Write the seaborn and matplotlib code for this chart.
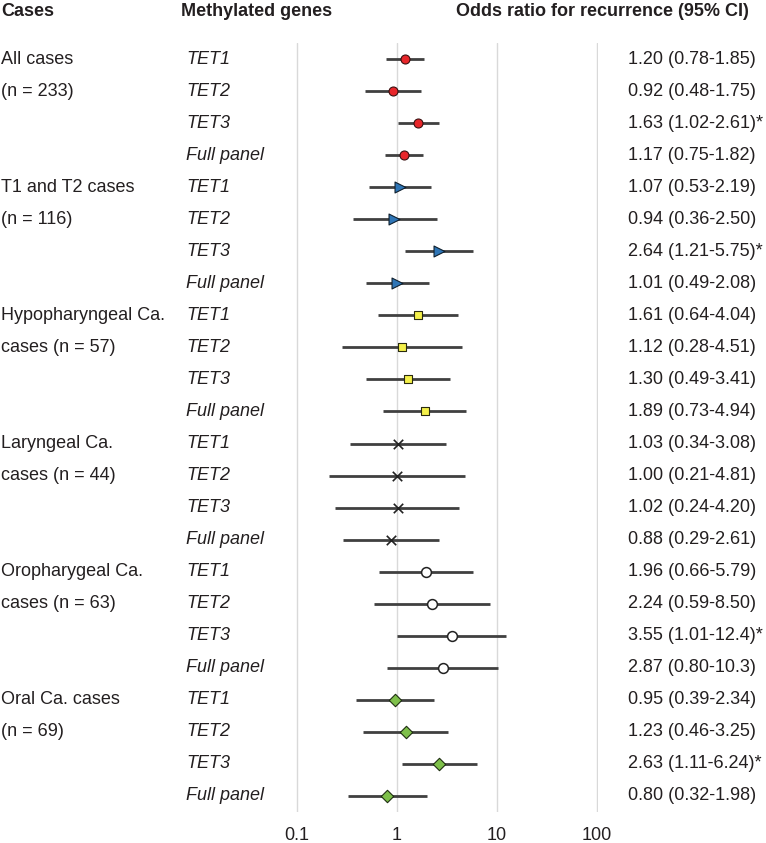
import matplotlib
matplotlib.use("Agg")
import matplotlib.pyplot as plt
import matplotlib.transforms as mtransforms
import seaborn as sns
import pandas as pd
import numpy as np

# ---------------- data ----------------
groups = ["All cases", "T1 and T2 cases", "Hypopharyngeal Ca.",
          "Laryngeal Ca.", "Oropharygeal Ca.", "Oral Ca."]
case_line1 = ["All cases", "T1 and T2 cases", "Hypopharyngeal Ca.",
              "Laryngeal Ca.", "Oropharygeal Ca.", "Oral Ca. cases"]
case_line2 = ["(n = 233)", "(n = 116)", "cases (n = 57)",
              "cases (n = 44)", "cases (n = 63)", "(n = 69)"]
genes = ["TET1", "TET2", "TET3", "Full panel"]

odds_ratio = [1.20, 0.92, 1.63, 1.17,
              1.07, 0.94, 2.64, 1.01,
              1.61, 1.12, 1.30, 1.89,
              1.03, 1.00, 1.02, 0.88,
              1.96, 2.24, 3.55, 2.87,
              0.95, 1.23, 2.63, 0.80]
ci_low = [0.78, 0.48, 1.02, 0.75,
          0.53, 0.36, 1.21, 0.49,
          0.64, 0.28, 0.49, 0.73,
          0.34, 0.21, 0.24, 0.29,
          0.66, 0.59, 1.01, 0.80,
          0.39, 0.46, 1.11, 0.32]
ci_high = [1.85, 1.75, 2.61, 1.82,
           2.19, 2.50, 5.75, 2.08,
           4.04, 4.51, 3.41, 4.94,
           3.08, 4.81, 4.20, 2.61,
           5.79, 8.50, 12.4, 10.3,
           2.34, 3.25, 6.24, 1.98]
value_labels = ["1.20 (0.78-1.85)", "0.92 (0.48-1.75)", "1.63 (1.02-2.61)*", "1.17 (0.75-1.82)",
                "1.07 (0.53-2.19)", "0.94 (0.36-2.50)", "2.64 (1.21-5.75)*", "1.01 (0.49-2.08)",
                "1.61 (0.64-4.04)", "1.12 (0.28-4.51)", "1.30 (0.49-3.41)", "1.89 (0.73-4.94)",
                "1.03 (0.34-3.08)", "1.00 (0.21-4.81)", "1.02 (0.24-4.20)", "0.88 (0.29-2.61)",
                "1.96 (0.66-5.79)", "2.24 (0.59-8.50)", "3.55 (1.01-12.4)*", "2.87 (0.80-10.3)",
                "0.95 (0.39-2.34)", "1.23 (0.46-3.25)", "2.63 (1.11-6.24)*", "0.80 (0.32-1.98)"]
x_ticks = [0.1, 1, 10, 100]
x_tick_labels = ["0.1", "1", "10", "100"]

# ---------------- styling per group ----------------
group_style = {
    "All cases":          dict(marker="o", fc="#e8262a", ec="#3a1010", s=42, lw=0.8),
    "T1 and T2 cases":    dict(marker=">", fc="#2e75b6", ec="#10202e", s=62, lw=0.8),
    "Hypopharyngeal Ca.": dict(marker="s", fc="#f4f04a", ec="#2a2a10", s=40, lw=0.8),
    "Laryngeal Ca.":      dict(marker="x", fc="#222222", ec="#222222", s=46, lw=1.2),
    "Oropharygeal Ca.":   dict(marker="o", fc="white", ec="#222222", s=50, lw=1.1),
    "Oral Ca.":           dict(marker="D", fc="#7ec04a", ec="#1e2e10", s=40, lw=0.8),
}

rows = []
for gi, g in enumerate(groups):
    for ji, gene in enumerate(genes):
        k = gi * 4 + ji
        rows.append(dict(group=g, gene=gene, row=k, OR=odds_ratio[k],
                         lo=ci_low[k], hi=ci_high[k], label=value_labels[k]))
df = pd.DataFrame(rows)

sns.set_theme(style="white")
plt.rcParams["font.family"] = ["Liberation Sans", "DejaVu Sans"]
txt_color = "#231f20"

W, H = 766, 843
fig = plt.figure(figsize=(W / 100, H / 100), dpi=100)

xmin, xmax = 0.098, 102
left_px = 297 - 100 * (np.log10(0.1) - np.log10(xmin))
width_px = 100 * (np.log10(xmax) - np.log10(xmin))
top_px, bottom_px = 43, 812
ax = fig.add_axes([left_px / W, 1 - bottom_px / H, width_px / W, (bottom_px - top_px) / H])

ax.set_xscale("log")
ax.set_xlim(xmin, xmax)
ax.set_ylim(23.5, -0.5)

# vertical gridlines
for xt in x_ticks:
    ax.axvline(xt, color="#d9d9d9", lw=1.0, zorder=0)

# CI lines
ax.hlines(df["row"], df["lo"], df["hi"], color="#404040", lw=2.0, zorder=2)

# points
for g in groups:
    sub = df[df["group"] == g]
    st = group_style[g]
    if st["marker"] == "x":
        sns.scatterplot(data=sub, x="OR", y="row", marker="x", color=st["fc"],
                        s=st["s"], linewidth=st["lw"], ax=ax, zorder=3, legend=False)
    else:
        sns.scatterplot(data=sub, x="OR", y="row", marker=st["marker"], color=st["fc"],
                        edgecolor=st["ec"], s=st["s"], linewidth=st["lw"], ax=ax,
                        zorder=3, legend=False)

ax.set_xticks(x_ticks)
ax.set_xticklabels(x_tick_labels)
ax.minorticks_off()
ax.tick_params(axis="x", length=0, pad=11, labelsize=13, labelcolor=txt_color)
ax.set_yticks([])
ax.set_xlabel("")
ax.set_ylabel("")
for sp in ax.spines.values():
    sp.set_visible(False)

# texts
trans = mtransforms.blended_transform_factory(fig.transFigure, ax.transData)
fs = 13
for gi in range(len(groups)):
    ax.text(1 / W, gi * 4, case_line1[gi], transform=trans, ha="left", va="center",
            fontsize=fs, color=txt_color)
    ax.text(1 / W, gi * 4 + 1, case_line2[gi], transform=trans, ha="left", va="center",
            fontsize=fs, color=txt_color)
for _, r in df.iterrows():
    ax.text(186 / W, r["row"], r["gene"], transform=trans, ha="left", va="center",
            fontsize=fs, style="italic", color=txt_color)
    ax.text(628 / W, r["row"], r["label"], transform=trans, ha="left", va="center",
            fontsize=fs, color=txt_color)

hy = 1 - 11 / H
fig.text(1 / W, hy, "Cases", ha="left", va="center", fontsize=fs, fontweight="bold", color=txt_color)
fig.text(181 / W, hy, "Methylated genes", ha="left", va="center", fontsize=fs, fontweight="bold", color=txt_color)
fig.text(456 / W, hy, "Odds ratio for recurrence (95% CI)", ha="left", va="center", fontsize=fs,
         fontweight="bold", color=txt_color)

fig.savefig("out.png", dpi=100)
